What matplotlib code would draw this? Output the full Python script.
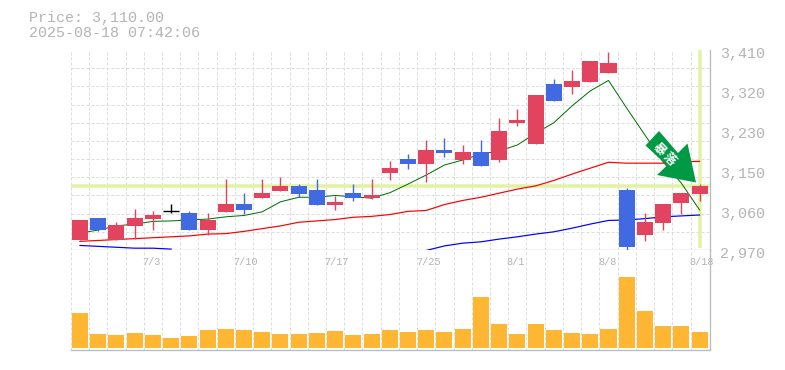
"""Candlestick chart with moving averages and a volume panel."""

import matplotlib
matplotlib.use("Agg")
import matplotlib.pyplot as plt
import matplotlib.transforms as mtransforms
import numpy as np
from matplotlib.patches import Polygon

plt.rcParams['lines.scale_dashes'] = False

opens = [2992, 3040, 2992, 3023, 3038, 3055, 3051, 3014, 3054, 3071, 3084, 3100,
         3111, 3102, 3069, 3095, 3084, 3139, 3170, 3159, 3190, 3168, 3186, 3168,
         3249, 3203, 3335, 3329, 3340, 3359, 3102, 3003, 3029, 3073, 3093]
closes = [3036, 3014, 3025, 3040, 3047, 3055, 3014, 3036, 3071, 3058, 3095, 3111,
          3093, 3069, 3076, 3084, 3091, 3150, 3159, 3190, 3183, 3186, 3155, 3232,
          3256, 3311, 3298, 3342, 3386, 3381, 2977, 3032, 3071, 3095, 3110]
highs = [3036, 3040, 3032, 3060, 3056, 3071, 3056, 3051, 3126, 3095, 3126, 3131,
         3115, 3126, 3089, 3115, 3126, 3166, 3181, 3212, 3216, 3201, 3212, 3260,
         3280, 3311, 3346, 3366, 3386, 3406, 3106, 3051, 3071, 3095, 3115]
lows = [2992, 3012, 2992, 2994, 3014, 3051, 3014, 3003, 3054, 3049, 3084, 3100,
        3087, 3069, 3058, 3078, 3082, 3124, 3148, 3120, 3175, 3159, 3155, 3164,
        3243, 3203, 3298, 3313, 3340, 3359, 2970, 2990, 3014, 3049, 3078]

ma_short = [3007, 3014, 3023, 3027, 3033, 3034, 3036, 3038, 3043, 3046, 3054, 3076,
            3086, 3086, 3090, 3087, 3084, 3096, 3115, 3135, 3157, 3168, 3181, 3188,
            3201, 3227, 3250, 3287, 3320, 3343, 3282, 3223, 3164, 3117, 3058]
ma_mid = [2989, 2991, 2993, 2995, 2997, 2999, 3001, 3005, 3006, 3011, 3017, 3023,
          3031, 3034, 3037, 3042, 3044, 3048, 3055, 3057, 3070, 3079, 3086, 3095,
          3104, 3111, 3123, 3137, 3150, 3163, 3161, 3161, 3161, 3164, 3165]
# the long average runs below the visible range in the middle of the chart
ma_long = [2980, 2978, 2976, 2974, 2974, 2972, None, None, None, None, None, None,
           None, None, None, None, None, None, None, 2969, 2979, 2985, 2988, 2994,
           2999, 3005, 3010, 3018, 3027, 3035, 3036, 3039, 3043, 3045, 3047]

volumes = [35, 14, 13, 15, 13, 10, 12, 18, 19, 18, 16, 14, 14, 15, 17, 13, 14, 18,
           16, 18, 16, 19, 51, 24, 14, 24, 18, 15, 14, 19, 71, 37, 22, 22, 16]

last_price = 3110
price_ticks = [3410, 3322, 3234, 3146, 3058, 2970]
price_labels = ['3,410', '3,320', '3,230', '3,150', '3,060', '2,970']
date_idx = [4, 9, 14, 19, 24, 29, 34]
date_labels = ['7/3', '7/10', '7/17', '7/25', '8/1', '8/8', '8/18']

RED = '#e2445f'
BLUE = '#4169e1'
ORANGE = '#ffb733'
HIGHLIGHT = '#e2f2a4'
GRID = '#dddddd'
FRAME = '#bbbbbb'
TEXT = '#b4b4b4'
MONO = 'Liberation Mono'
PX = 0.72  # one pixel in points at dpi 100

W, H = 785, 370
fig = plt.figure(figsize=(W / 100, H / 100), dpi=100)
ax = fig.add_axes([70.5 / W, (H - 250) / H, 639.5 / W, 200 / H])
ax_vol = fig.add_axes([70.5 / W, (H - 350) / H, 639.5 / W, 100 / H])

x = np.arange(len(opens))
grid_x = x - 0.5
grid_y = np.arange(2970, 3411, 40)

for a in (ax, ax_vol):
    a.set_xlim(-0.521, 34.57)
    a.set_xticks([])
    a.set_xticks(grid_x, minor=True)
    a.tick_params(which='both', length=0)
    a.grid(True, which='minor', axis='x', color=GRID, lw=PX, linestyle=(0, (2.2, 1.4)))
    a.set_axisbelow(True)
    for side in ('left', 'top'):
        a.spines[side].set_visible(False)
    for side in ('right', 'bottom'):
        a.spines[side].set_color(FRAME)
        a.spines[side].set_linewidth(1.3 * PX)

# price panel
ax.set_ylim(2970, 3410)
ax.set_yticks(grid_y, minor=True)
ax.grid(True, which='minor', axis='y', color=GRID, lw=PX, linestyle=(0, (2.2, 1.4)))
ax.yaxis.tick_right()
ax.set_yticks(price_ticks)
ax.set_yticklabels(price_labels, family=MONO, fontsize=10.8, color=TEXT)
ax.tick_params(axis='y', which='major', length=0, pad=7)
shift = mtransforms.ScaledTranslation(0, -2.7 / 100, fig.dpi_scale_trans)
for lab in ax.get_yticklabels():
    lab.set_transform(lab.get_transform() + shift)

ax.axhline(last_price, color=HIGHLIGHT, lw=3.5 * PX, zorder=2)
ax.plot([x[-1], x[-1]], [2974, 3410], color=HIGHLIGHT, lw=3.5 * PX, zorder=2,
        solid_capstyle='butt')

long_vals = np.array([np.nan if v is None else v for v in ma_long], dtype=float)
ax.plot(x, ma_short, color='#007000', lw=PX, zorder=3)
ax.plot(x, ma_mid, color='#ff0000', lw=1.2 * PX, zorder=3)
ax.plot(x, long_vals, color='#0000ff', lw=1.2 * PX, zorder=3)

for i in x:
    o, c = opens[i], closes[i]
    if o == c:
        col = 'black'
        ax.hlines(o, i - 0.44, i + 0.44, color=col, lw=1.4 * PX, zorder=5)
    else:
        col = RED if c > o else BLUE
        ax.bar(i, abs(c - o), bottom=min(o, c), width=0.88, color=col, zorder=5)
    ax.vlines(i, lows[i], highs[i], color=col, lw=1.4 * PX, zorder=4)

# volume panel
ax_vol.set_ylim(-2, 98)
ax_vol.set_yticks([])
ax_vol.bar(x, volumes, width=0.88, color=ORANGE, zorder=3)
for i, lab in zip(date_idx, date_labels):
    ax_vol.annotate(lab, xy=(i, 0.88), xycoords=ax_vol.get_xaxis_transform(),
                    xytext=(-10.5 * PX, 0), textcoords='offset points',
                    ha='left', va='center', family=MONO, fontsize=7.4, color=TEXT,
                    zorder=6)

# overlay in pixel coordinates for the header and the signal arrow
over = fig.add_axes([0, 0, 1, 1])
over.set_xlim(0, W)
over.set_ylim(H, 0)
over.set_axis_off()
over.patch.set_visible(False)
over.text(29, 18, 'Price: 3,110.00', family=MONO, fontsize=10.8, color=TEXT,
          ha='left', va='center')
over.text(29, 33, '2025-08-18 07:42:06', family=MONO, fontsize=10.8, color=TEXT,
          ha='left', va='center')

arrow_pts = [(659, 131), (645.5, 145.5), (667, 165.5), (657, 175), (696, 182.5),
             (687.5, 143.5), (678, 153)]
over.add_patch(Polygon(arrow_pts, closed=True, facecolor='#009944', edgecolor='none',
                       zorder=8))
over.text(659, 149, '暴', family='Noto Sans CJK JP', fontsize=9, fontweight='bold',
          color='white', rotation=-45, ha='center', va='center', zorder=9)
over.text(669, 159, '落', family='Noto Sans CJK JP', fontsize=9, fontweight='bold',
          color='white', rotation=-45, ha='center', va='center', zorder=9)

fig.savefig('out.png', dpi=100)
plt.close(fig)
